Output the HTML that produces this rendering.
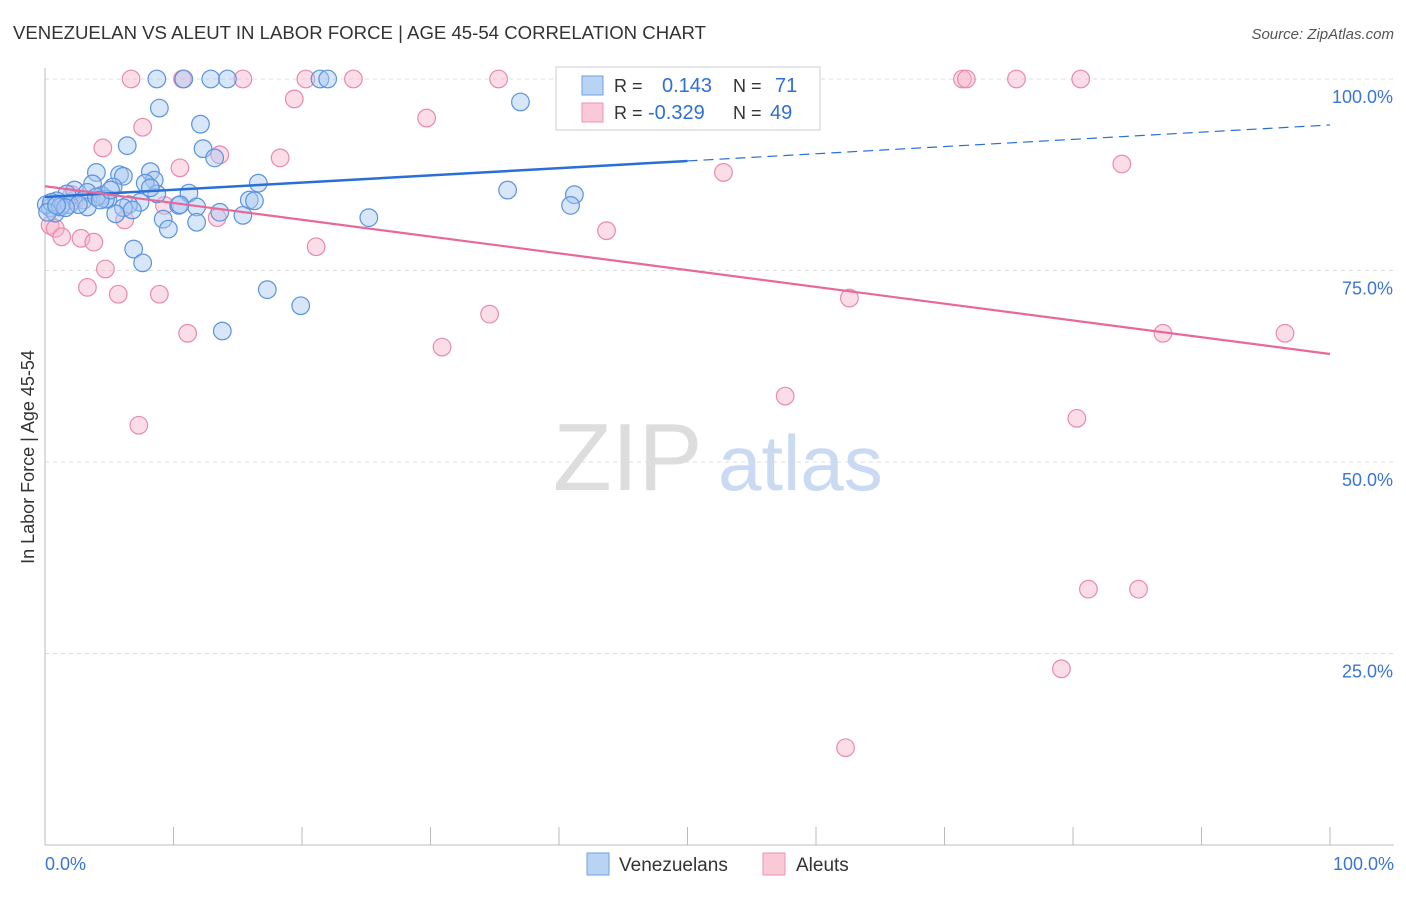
<!DOCTYPE html>
<html><head><meta charset="utf-8">
<style>
body{margin:0;background:#fff;font-family:"Liberation Sans",sans-serif;}
svg text{font-family:"Liberation Sans",sans-serif;}
</style></head>
<body>
<svg id="chart" width="1406" height="892" viewBox="0 0 1406 892" xmlns="http://www.w3.org/2000/svg">
<text x="13" y="39" font-size="18.6" fill="#333">VENEZUELAN VS ALEUT IN LABOR FORCE | AGE 45-54 CORRELATION CHART</text>
<text x="1394" y="39" font-size="15" font-style="italic" fill="#555" text-anchor="end">Source: ZipAtlas.com</text>
<g id="grid"></g>
<g id="axes"></g>
<text x="553" y="490" font-size="96" font-family="Liberation Serif" fill="#ddd">ZIP</text>
<text x="718" y="490" font-size="78" fill="#c9daf2">atlas</text>
<g id="marks"></g>
<text transform="translate(34,457) rotate(-90)" font-size="18" fill="#333" text-anchor="middle">In Labor Force | Age 45-54</text>
<g>
<rect x="556" y="67" width="264" height="63" fill="#fff" stroke="#ccc"/>
<rect x="582" y="76" width="21" height="19" fill="#b9d3f5" stroke="#6fa0e3"/>
<rect x="582" y="103" width="21" height="19" fill="#f9c9d8" stroke="#ec93b3"/>
<text x="614" y="92" font-size="18" fill="#333">R =</text>
<text x="662" y="92" font-size="20" fill="#2e6fd6">0.143</text>
<text x="733" y="92" font-size="18" fill="#333">N =</text>
<text x="775" y="92" font-size="20" fill="#2e6fd6">71</text>
<text x="614" y="119" font-size="18" fill="#333">R =</text>
<text x="648" y="119" font-size="20" fill="#2e6fd6">-0.329</text>
<text x="733" y="119" font-size="18" fill="#333">N =</text>
<text x="770" y="119" font-size="20" fill="#2e6fd6">49</text>
</g>
<g>
<rect x="587" y="853" width="22" height="22" fill="#b9d3f5" stroke="#6fa0e3"/>
<text x="619" y="871" font-size="19" fill="#333">Venezuelans</text>
<rect x="763" y="853" width="22" height="22" fill="#f9c9d8" stroke="#ec93b3"/>
<text x="796" y="871" font-size="19" fill="#333">Aleuts</text>
</g>
</svg>
<script>
const yTicks=[25,50,75,100];
const yTickLabels=["25.0%","50.0%","75.0%","100.0%"];
const xTickLabels=["0.0%","100.0%"];
const blueX=[8.7,10.8,12.9,14.2,21.4,22.0,8.9,37.0,12.1,6.4,12.3,13.2,4.0,5.8,6.1,8.2,8.5,7.8,16.6,5.3,2.3,3.7,3.3,1.7,4.4,4.9,3.0,0.9,11.2,8.7,15.9,16.3,36.0,41.2,40.9,7.4,6.5,6.1,10.4,11.8,13.6,5.5,15.4,9.2,11.8,9.6,25.2,0.4,0.8,1.3,1.9,3.3,4.7,6.9,7.6,17.3,19.9,13.8,0.1,0.5,1.2,2.6,4.0,6.8,10.5,1.6,4.3,8.2,0.2,0.9,5.1];
const blueY=[100,100,100,100,100,100,96.2,97.0,94.1,91.3,90.9,89.7,87.8,87.5,87.3,87.9,86.8,86.4,86.4,85.9,85.5,86.3,85.2,85.0,84.8,84.3,84.2,84.1,85.1,85.0,84.2,84.1,85.5,84.9,83.5,83.9,83.6,83.2,83.5,83.3,82.6,82.4,82.2,81.7,81.3,80.4,81.9,83.2,82.5,83.6,83.6,83.3,84.3,77.8,76.0,72.5,70.4,67.1,83.6,83.9,83.3,83.6,84.6,82.9,83.6,83.2,84.2,85.8,82.6,83.5,85.5];
const pinkX=[6.7,10.7,15.4,20.3,24.0,35.3,55.6,71.4,71.7,75.6,80.6,19.4,29.7,7.6,4.5,10.5,13.6,18.3,83.8,52.8,2.1,9.3,13.4,6.2,43.7,0.4,0.8,1.3,2.8,3.8,21.1,4.7,3.3,5.7,8.9,62.6,34.6,11.1,87.0,96.5,30.9,57.6,7.3,80.3,81.2,85.1,79.1,62.3,2.3];
const pinkY=[100,100,100,100,100,100,100,100,100,100,100,97.4,94.9,93.7,91.0,88.4,90.1,89.7,88.9,87.8,84.9,83.5,81.9,81.6,80.2,80.9,80.5,79.4,79.2,78.7,78.1,75.2,72.8,71.9,71.9,71.4,69.3,66.8,66.8,66.8,65.0,58.6,54.8,55.7,33.4,33.4,23.0,12.7,84.2];
const blueTrend=[84.6,94.0];
const pinkTrend=[86.0,64.1];
const NS="http://www.w3.org/2000/svg";
const X0=45,X1=1330,Y0=845,Y100=79;
const sx=v=>X0+(X1-X0)*v/100;
const sy=v=>Y0-(Y0-Y100)*v/100;
function mk(tag,attrs,parent){const e=document.createElementNS(NS,tag);for(const k in attrs)e.setAttribute(k,attrs[k]);parent.appendChild(e);return e;}
const grid=document.getElementById('grid'),axes=document.getElementById('axes'),marks=document.getElementById('marks');
yTicks.forEach((t,i)=>{
 const l=mk('line',{x1:X0,x2:1394,y1:sy(t),y2:sy(t),stroke:'#ddd','stroke-dasharray':'4,4'},grid);
 
 
 const tx=mk('text',{x:1393,y:sy(t)+24,'font-size':18,fill:'#3a75d6','text-anchor':'end'},axes);
 tx.textContent=yTickLabels[i];
 
 
});
mk('line',{x1:X0,x2:X0,y1:68,y2:Y0,stroke:'#bbb'},axes);
mk('line',{x1:X0,x2:1394,y1:Y0,y2:Y0,stroke:'#bbb'},axes);
for(let i=1;i<=10;i++){mk('line',{x1:sx(i*10),x2:sx(i*10),y1:Y0,y2:Y0-18,stroke:'#bbb'},axes);}
[[X0,'start'],[1394,'end']].forEach((p,i)=>{
 const tx=mk('text',{x:p[0],y:870,'font-size':18,fill:'#3a75d6','text-anchor':p[1]},axes);
 tx.textContent=xTickLabels[i];
 
 
});
function dots(xs,ys,fill,stroke,name){
 xs.forEach((x,i)=>{
  const c=mk('circle',{cx:sx(x),cy:sy(ys[i]),r:8.8,fill:fill,'fill-opacity':0.45,stroke:stroke,'stroke-width':1.2},marks);
  
  
 });
}
dots(pinkX,pinkY,'#f6b3c9','#e98aac','aleut-point');
dots(blueX,blueY,'#a9c8f1','#5b93de','venezuelan-point');
const lerp=(t,x)=>t[0]+(t[1]-t[0])*x/100;
const b1=mk('line',{x1:sx(0),y1:sy(lerp(blueTrend,0)),x2:sx(50),y2:sy(lerp(blueTrend,50)),stroke:'#2a6fd6','stroke-width':2.5},marks);


const b2=mk('line',{x1:sx(50),y1:sy(lerp(blueTrend,50)),x2:sx(100),y2:sy(lerp(blueTrend,100)),stroke:'#2a6fd6','stroke-width':1.2,'stroke-dasharray':'10,6'},marks);


const p1=mk('line',{x1:sx(0),y1:sy(lerp(pinkTrend,0)),x2:sx(100),y2:sy(lerp(pinkTrend,100)),stroke:'#e8689a','stroke-width':2.2},marks);


</script>
</body></html>
